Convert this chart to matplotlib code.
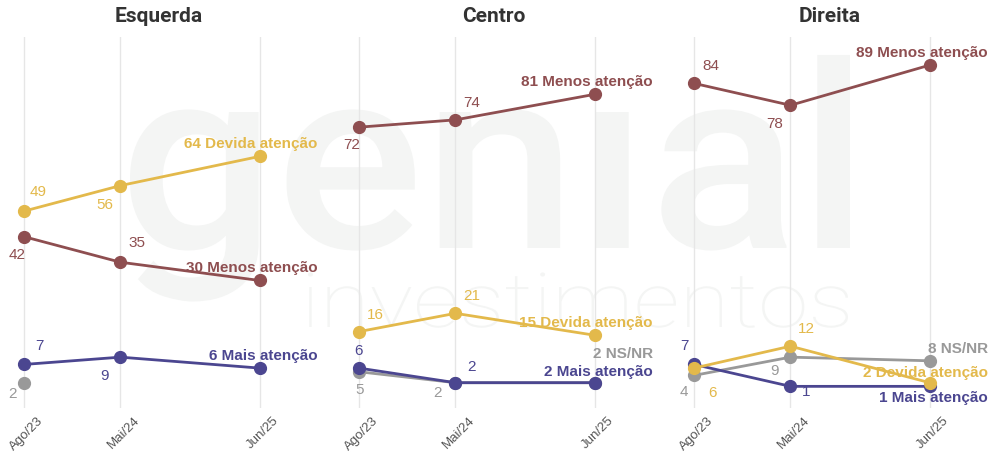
import numpy as np
import matplotlib.pyplot as plt
from matplotlib.textpath import TextPath
from matplotlib.font_manager import FontProperties
from matplotlib.patches import PathPatch
from matplotlib.transforms import Affine2D

# months since Ago/23
months = [0, 9, 22]
tick_labels = ['Ago/23', 'Mai/24', 'Jun/25']
panels = ['Esquerda', 'Centro', 'Direita']
series = ['Menos atenção', 'Devida atenção', 'Mais atenção', 'NS/NR']

esquerda = {
    'Menos atenção': [42, 35, 30],
    'Devida atenção': [49, 56, 64],
    'Mais atenção': [7, 9, 6],
    'NS/NR': [2, np.nan, np.nan],
}
centro = {
    'Menos atenção': [72, 74, 81],
    'Devida atenção': [16, 21, 15],
    'Mais atenção': [6, 2, 2],
    'NS/NR': [5, 2, 2],
}
direita = {
    'Menos atenção': [84, 78, 89],
    'Devida atenção': [6, 12, 2],
    'Mais atenção': [7, 1, 1],
    'NS/NR': [4, 9, 8],
}
data = [esquerda, centro, direita]

colors = {
    'Menos atenção': '#8e4e50',
    'Devida atenção': '#e3b94b',
    'Mais atenção': '#4b4690',
    'NS/NR': '#999999',
}

# label offsets in pixels (dx, dy) for first two points
val_off = [
    {'Menos atenção': [(-7, -18), (16, 19)], 'Devida atenção': [(14, 19), (-16, -19)],
     'Mais atenção': [(15, 18), (-16, -19)], 'NS/NR': [(-12, -11), None]},
    {'Menos atenção': [(-7, -18), (16, 17)], 'Devida atenção': [(16, 17), (16, 17)],
     'Mais atenção': [(-1, 17), (16, 16)], 'NS/NR': [(1, -18), (-18, -10)]},
    {'Menos atenção': [(17, 17), (-16, -19)], 'Devida atenção': [(18, -25), (16, 17)],
     'Mais atenção': [(-10, 18), (16, -6)], 'NS/NR': [(-10, -17), (-16, -14)]},
]
end_dy = [
    {'Menos atenção': 12, 'Devida atenção': 12, 'Mais atenção': 12, 'NS/NR': 12},
    {'Menos atenção': 12, 'Devida atenção': 12, 'Mais atenção': 11, 'NS/NR': 29},
    {'Menos atenção': 12, 'Devida atenção': 10, 'Mais atenção': -12, 'NS/NR': 12},
]

plt.rcParams['font.family'] = ['Liberation Sans', 'DejaVu Sans']

fig = plt.figure(figsize=(9.91, 4.54), dpi=100)
fig.patch.set_facecolor('white')

# watermark in a background axes (pixel coords, y down)
bg = fig.add_axes([0, 0, 1, 1], zorder=-10)
bg.axis('off')
bg.set_xlim(0, 991)
bg.set_ylim(454, 0)


def watermark(text, weight, x0, x1, xh_top, base):
    fp = FontProperties(family='Roboto', weight=weight)
    tp = TextPath((0, 0), text, size=100, prop=fp)
    xh = TextPath((0, 0), 'x', size=100, prop=fp).get_extents().height
    ext = tp.get_extents()
    sx = (x1 - x0) / ext.width
    sy = (base - xh_top) / xh
    tr = Affine2D().translate(-ext.x0, 0).scale(sx, -sy).translate(x0, base)
    bg.add_patch(PathPatch(tr.transform_path(tp), facecolor='#f4f5f4', edgecolor='none'))


watermark('genıal', 'medium', 130, 850, 112, 248)
watermark('investimentos', 'light', 308, 848, 287, 327)

W, H = 991, 454
title_x = [159, 494, 830]
for i, (name, d) in enumerate(zip(panels, data)):
    left = 8 + i * 335
    ax = fig.add_axes([left / W, (H - 408) / H, 316 / W, (408 - 37) / H])
    ax.patch.set_alpha(0)
    ax.set_xlim(-1.5, 28)
    ax.set_ylim(-4.93, 96.7)
    for s in ['top', 'right', 'left', 'bottom']:
        ax.spines[s].set_visible(False)
    ax.set_yticks([])
    ax.set_xticks(months)
    ax.set_xticklabels([])
    ax.tick_params(axis='x', length=0)
    ax.grid(axis='x', color='#e6e6e6', linewidth=1)
    ax.set_axisbelow(True)
    for m, lab in zip(months, tick_labels):
        ax.annotate(lab, (m, 0), xycoords=('data', 'axes fraction'), xytext=(17, -11),
                    textcoords='offset pixels', rotation=45, rotation_mode='anchor',
                    ha='right', va='center', fontsize=9.5, color='#555555',
                    annotation_clip=False)
    fig.text(title_x[i] / W, (H - 17) / H, name, ha='center', va='center', fontsize=15,
             weight='bold', family='Roboto', color='#333333')

    for s in ['NS/NR', 'Mais atenção', 'Devida atenção', 'Menos atenção']:
        vals = d[s]
        c = colors[s]
        ax.plot(months, vals, color=c, linewidth=2, marker='o', markersize=8.5, zorder=3)
        for j in range(2):
            off = val_off[i][s][j]
            if off is None or np.isnan(vals[j]):
                continue
            ax.annotate(f'{vals[j]:.0f}', (months[j], vals[j]), xytext=off,
                        textcoords='offset pixels', ha='center', va='center',
                        fontsize=11, color=c, zorder=4)
        if not np.isnan(vals[2]):
            ax.annotate(f'{vals[2]:.0f} {s}', (months[2], vals[2]), xytext=(58, end_dy[i][s]),
                        textcoords='offset pixels', ha='right', va='center',
                        fontsize=11, weight='bold', color=c, zorder=5,
                        annotation_clip=False)

fig.savefig('out.png', dpi=100, facecolor='white')
